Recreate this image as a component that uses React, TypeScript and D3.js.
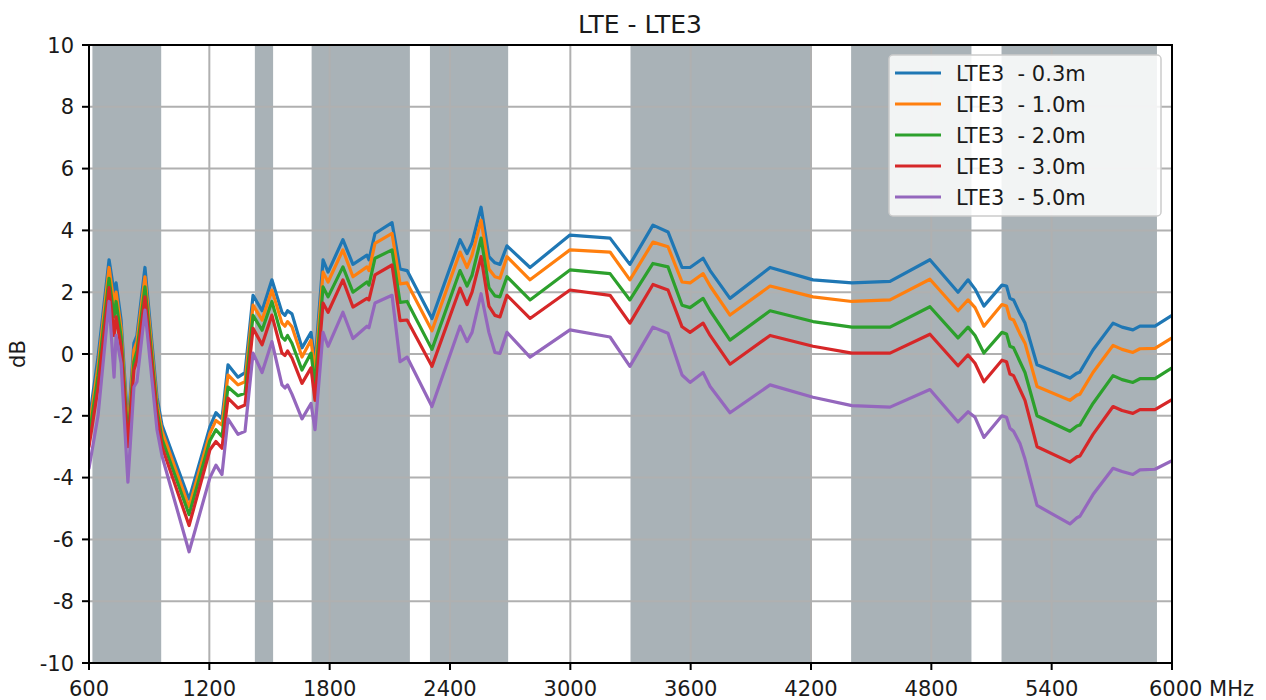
import React from "react";
import * as d3 from "d3";

const freqs = [600, 645, 700, 725, 735, 760, 794, 824, 839, 879, 939, 964, 1099, 1203, 1233, 1263, 1293, 1343, 1378, 1418, 1463, 1512, 1562, 1577, 1590, 1612, 1662, 1707, 1727, 1767, 1792, 1866, 1916, 1986, 1996, 2026, 2111, 2151, 2186, 2310, 2450, 2485, 2510, 2555, 2594, 2624, 2649, 2684, 2799, 2998, 3198, 3297, 3412, 3487, 3557, 3597, 3662, 3697, 3796, 3996, 4210, 4404, 4594, 4793, 4933, 4983, 5018, 5062, 5152, 5175, 5192, 5210, 5242, 5267, 5327, 5491, 5526, 5541, 5606, 5706, 5751, 5805, 5840, 5915, 6000];

const s03 = [-2.2, -0.1, 3.05, 2.0, 2.3, 1.1, -2.4, 0.35, 0.6, 2.8, -1.4, -2.3, -4.7, -2.35, -1.9, -2.1, -0.35, -0.75, -0.6, 1.9, 1.4, 2.4, 1.35, 1.25, 1.4, 1.3, 0.2, 0.7, -0.3, 3.05, 2.65, 3.7, 2.9, 3.2, 3.05, 3.9, 4.25, 2.75, 2.7, 1.15, 3.7, 3.25, 3.6, 4.75, 3.15, 2.95, 2.9, 3.5, 2.8, 3.85, 3.75, 2.9, 4.17, 3.95, 2.8, 2.8, 3.1, 2.7, 1.8, 2.8, 2.4, 2.3, 2.35, 3.05, 2.0, 2.4, 2.1, 1.55, 2.23, 2.2, 1.8, 1.75, 1.3, 1.0, -0.35, -0.78, -0.62, -0.58, 0.13, 1.0, 0.87, 0.78, 0.9, 0.9, 1.25];
const s10 = [-2.45, -0.4, 2.8, 1.6, 2.0, 0.83, -2.6, 0.13, 0.4, 2.5, -1.6, -2.5, -4.95, -2.57, -2.15, -2.3, -0.68, -1.0, -0.9, 1.58, 1.1, 2.07, 1.0, 0.9, 1.05, 0.88, -0.1, 0.45, -0.6, 2.65, 2.33, 3.37, 2.5, 2.82, 2.7, 3.58, 3.9, 2.27, 2.3, 0.75, 3.3, 2.8, 3.2, 4.33, 2.75, 2.5, 2.45, 3.15, 2.4, 3.37, 3.3, 2.4, 3.62, 3.47, 2.33, 2.3, 2.6, 2.2, 1.26, 2.2, 1.85, 1.7, 1.75, 2.42, 1.4, 1.75, 1.5, 0.9, 1.6, 1.55, 1.15, 1.1, 0.65, 0.35, -1.05, -1.5, -1.33, -1.3, -0.6, 0.28, 0.15, 0.05, 0.17, 0.18, 0.52];
const s20 = [-2.7, -0.7, 2.45, 1.2, 1.7, 0.55, -2.8, -0.25, 0.1, 2.17, -1.8, -2.75, -5.2, -2.8, -2.45, -2.67, -1.07, -1.35, -1.27, 1.25, 0.77, 1.7, 0.55, 0.45, 0.6, 0.35, -0.52, 0.03, -1.0, 2.17, 1.85, 2.82, 2.0, 2.33, 2.23, 3.1, 3.37, 1.67, 1.7, 0.15, 2.7, 2.2, 2.55, 3.75, 2.15, 1.88, 1.85, 2.5, 1.75, 2.72, 2.6, 1.75, 2.93, 2.82, 1.58, 1.5, 1.8, 1.4, 0.45, 1.4, 1.05, 0.87, 0.87, 1.53, 0.52, 0.87, 0.6, 0.03, 0.7, 0.65, 0.25, 0.2, -0.25, -0.6, -2.0, -2.5, -2.33, -2.3, -1.6, -0.7, -0.83, -0.92, -0.8, -0.8, -0.45];
const s30 = [-3.0, -1.1, 2.15, 0.6, 1.2, 0.23, -3.0, -0.52, -0.2, 1.85, -2.0, -3.0, -5.55, -3.1, -2.83, -3.05, -1.43, -1.75, -1.65, 0.83, 0.3, 1.26, 0.03, -0.05, 0.1, -0.13, -0.95, -0.45, -1.5, 1.65, 1.35, 2.4, 1.52, 1.8, 1.75, 2.56, 2.88, 1.08, 1.1, -0.4, 2.13, 1.6, 2.0, 3.15, 1.55, 1.25, 1.2, 1.9, 1.15, 2.07, 1.9, 1.0, 2.25, 2.07, 0.88, 0.7, 1.0, 0.6, -0.33, 0.6, 0.25, 0.03, 0.03, 0.64, -0.38, -0.03, -0.3, -0.9, -0.2, -0.25, -0.65, -0.7, -1.15, -1.5, -3.0, -3.5, -3.33, -3.3, -2.6, -1.7, -1.83, -1.92, -1.8, -1.8, -1.48];
const s50 = [-3.7, -2.0, 1.7, -0.75, 0.6, -0.3, -4.15, -1.07, -0.9, 1.42, -2.45, -3.3, -6.4, -4.0, -3.6, -3.9, -2.1, -2.6, -2.5, 0.03, -0.6, 0.4, -1.0, -1.1, -1.0, -1.3, -2.1, -1.6, -2.45, 0.7, 0.25, 1.35, 0.5, 0.9, 0.85, 1.65, 1.9, -0.25, -0.1, -1.7, 0.9, 0.4, 0.7, 1.95, 0.7, 0.05, 0.02, 0.7, -0.1, 0.78, 0.55, -0.4, 0.87, 0.67, -0.68, -0.92, -0.6, -1.05, -1.9, -1.0, -1.4, -1.67, -1.72, -1.15, -2.2, -1.87, -2.05, -2.7, -2.0, -2.05, -2.4, -2.5, -2.9, -3.4, -4.9, -5.5, -5.3, -5.25, -4.55, -3.7, -3.8, -3.9, -3.75, -3.73, -3.45];

const seriesNames = ["LTE3  - 0.3m", "LTE3  - 1.0m", "LTE3  - 2.0m", "LTE3  - 3.0m", "LTE3  - 5.0m"];
const seriesValues = [s03, s10, s20, s30, s50];
const seriesColors = ["#1f77b4", "#ff7f0e", "#2ca02c", "#d62728", "#9467bd"];

const bandStarts = [617, 1427, 1710, 2300, 3300, 4400, 5150];
const bandEnds = [960, 1518, 2200, 2690, 4200, 5000, 5925];

const xTicks = [600, 1200, 1800, 2400, 3000, 3600, 4200, 4800, 5400, 6000];
const xTickLabels = ["600", "1200", "1800", "2400", "3000", "3600", "4200", "4800", "5400", "6000 MHz"];
const yTicks = [-10, -8, -6, -4, -2, 0, 2, 4, 6, 8, 10];

const W = 1266;
const H = 700;
const M = { left: 89, right: 1172, top: 45, bottom: 663 };
const FONT = "'DejaVu Sans', sans-serif";

export default function App() {
  const x = d3.scaleLinear().domain([600, 6000]).range([M.left, M.right]);
  const y = d3.scaleLinear().domain([-10, 10]).range([M.bottom, M.top]);
  const line = d3
    .line<[number, number]>()
    .x((d) => x(d[0]))
    .y((d) => y(d[1]));

  const legendX = 889;
  const legendY = 55;
  const legendW = 272;
  const legendH = 161;
  const rowGap = 31;

  return (
    <svg
      width={W}
      height={H}
      style={{ position: "absolute", left: 0, top: 0, background: "#fff" }}
      fontFamily={FONT}
    >
      <rect x={0} y={0} width={W} height={H} fill="#fff" />
      <defs>
        <clipPath id="plotclip">
          <rect x={M.left} y={M.top} width={M.right - M.left} height={M.bottom - M.top} />
        </clipPath>
      </defs>
      {bandStarts.map((b, i) => (
        <rect
          key={"band" + i}
          x={x(b)}
          y={M.top}
          width={x(bandEnds[i]) - x(b)}
          height={M.bottom - M.top}
          fill="#a9b2b7"
        />
      ))}
      {xTicks.map((t) => (
        <line key={"gx" + t} x1={x(t)} x2={x(t)} y1={M.top} y2={M.bottom} stroke="#b0b0b0" strokeWidth={2} />
      ))}
      {yTicks.map((t) => (
        <line key={"gy" + t} x1={M.left} x2={M.right} y1={y(t)} y2={y(t)} stroke="#b0b0b0" strokeWidth={2} />
      ))}
      <g clipPath="url(#plotclip)">
        {seriesValues.map((vals, i) => (
          <path
            key={"s" + i}
            d={line(freqs.map((f, j) => [f, vals[j]] as [number, number])) || ""}
            fill="none"
            stroke={seriesColors[i]}
            strokeWidth={3.2}
            strokeLinejoin="round"
            strokeLinecap="round"
          />
        ))}
      </g>
      <rect x={M.left} y={M.top} width={M.right - M.left} height={M.bottom - M.top} fill="none" stroke="#000" strokeWidth={2} />
      {xTicks.map((t, i) => (
        <g key={"xt" + t}>
          <line x1={x(t)} x2={x(t)} y1={M.bottom} y2={M.bottom + 7} stroke="#000" strokeWidth={2} />
          <text
            x={x(t)}
            y={696}
            fontSize={21}
            fill="#1a1a1a"
            textAnchor={i === xTicks.length - 1 ? "start" : "middle"}
            dx={i === xTicks.length - 1 ? -23 : 0}
          >
            {xTickLabels[i]}
          </text>
        </g>
      ))}
      {yTicks.map((t) => (
        <g key={"yt" + t}>
          <line x1={M.left - 7} x2={M.left} y1={y(t)} y2={y(t)} stroke="#000" strokeWidth={2} />
          <text x={74} y={y(t)} dy="0.36em" fontSize={21} fill="#1a1a1a" textAnchor="end">
            {t}
          </text>
        </g>
      ))}
      <text x={25} y={(M.top + M.bottom) / 2} fontSize={21} fill="#1a1a1a" textAnchor="middle" transform={`rotate(-90 25 ${(M.top + M.bottom) / 2})`}>
        dB
      </text>
      <text x={640} y={33} fontSize={25} fill="#1a1a1a" textAnchor="middle">
        LTE - LTE3
      </text>
      <g>
        <rect x={legendX} y={legendY} width={legendW} height={legendH} rx={4} fill="#fff" fillOpacity={0.85} stroke="#cccccc" strokeWidth={1.5} />
        {seriesNames.map((n, i) => (
          <g key={"lg" + i}>
            <line
              x1={legendX + 6}
              x2={legendX + 52}
              y1={legendY + 18 + i * rowGap}
              y2={legendY + 18 + i * rowGap}
              stroke={seriesColors[i]}
              strokeWidth={3.2}
            />
            <text
              x={legendX + 67}
              y={legendY + 18 + i * rowGap}
              dy="0.36em"
              fontSize={21}
              fill="#1a1a1a"
              style={{ whiteSpace: "pre" }}
            >
              {n}
            </text>
          </g>
        ))}
      </g>
    </svg>
  );
}
